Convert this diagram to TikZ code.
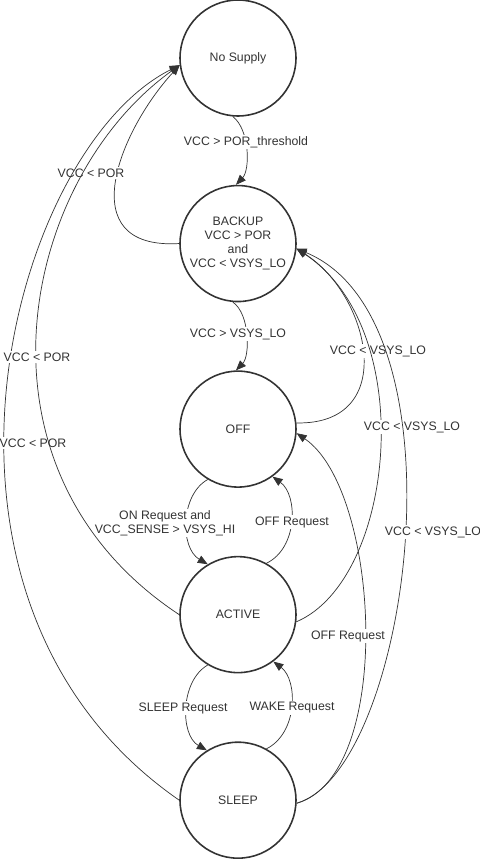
\documentclass[tikz,border=0pt]{standalone}
\usepackage{fontspec}
\setmainfont{Liberation Sans}
\usepackage{xcolor}
\usepackage{tikz}
\usetikzlibrary{shapes.geometric, arrows.meta, positioning}
\definecolor{ink}{HTML}{333333}
\tikzstyle{state} = [circle, minimum size=2.32cm, inner sep=0pt, draw=ink, line width=0.9pt, text=ink, align=center, font=\fontsize{7}{8}\selectfont]
\tikzstyle{trans} = [draw=ink, line width=0.4pt, -{Triangle[length=0.2cm, width=0.16cm]}]
\tikzstyle{lbl} = [fill=white, inner sep=1pt, text=ink, align=center, font=\fontsize{7}{8}\selectfont]

\begin{document}
\begin{tikzpicture}[x=0.02cm, y=-0.02cm, node distance=1.36cm]
            \useasboundingbox (0,0) rectangle (480,859);

            \node[state] (nosupply) at (238,58) {No Supply};
            \node[state, below=of nosupply] (backup) {BACKUP\\VCC > POR\\and\\VCC < VSYS\_LO};
            \node[state, below=of backup] (off) {OFF};
            \node[state, below=of off] (active) {ACTIVE};
            \node[state, below=of active] (sleep) {SLEEP};

            % neighbours
            \draw[trans] (nosupply.265) .. controls (250,130) and (250,170) .. (backup.92);
            \node[lbl] (lblpor) at (246,142) {VCC > POR\_threshold};
            \draw[trans] (backup.265) .. controls (250,314) and (250,356) .. (off.92);
            \node[lbl] (lblhi) at (238,334) {VCC > VSYS\_LO};
            \draw[trans] (off.239) .. controls (180,495) and (180,548) .. (active.121);
            \node[lbl] (lblon) at (165,523) {ON Request and\\VCC\_SENSE > VSYS\_HI};
            \draw[trans] (active.61) .. controls (298,548) and (298,495) .. (off.306);
            \node[lbl] (lbloff) at (292,522) {OFF Request};
            \draw[trans] (active.239) .. controls (180,681) and (180,735) .. (sleep.122);
            \node[lbl] (lblsleep) at (183,708) {SLEEP Request};
            \draw[trans] (sleep.61) .. controls (298,733) and (298,680) .. (active.307);
            \node[lbl] (lblwake) at (292,708) {WAKE Request};

            % back to No Supply
            \draw[trans] (backup.180) .. controls (70,250) and (120,130) .. (nosupply.187);
            \node[lbl] (lblpora) at (91,173) {VCC < POR};
            \draw[trans] (sleep.180) .. controls (-110,600) and (10,150) .. (nosupply.187);
            \node[lbl] (lblporc) at (33,443) {VCC < POR};
            \draw[trans] (active.180) .. controls (-40,470) and (20,180) .. (nosupply.187);
            \node[lbl] (lblporb) at (37,357) {VCC < POR};

            % back to BACKUP / OFF
            \draw[trans] (off.6) .. controls (400,425) and (370,295) .. (backup.355);
            \node[lbl] (lbllo) at (378,351) {VCC < VSYS\_LO};
            \draw[trans] (active.353) .. controls (395,580) and (420,330) .. (backup.355);
            \node[lbl] (lbllob) at (412,427) {VCC < VSYS\_LO};
            \draw[trans] (sleep.357) .. controls (410,770) and (470,320) .. (backup.355);
            \node[lbl] (lblloc) at (433,532) {VCC < VSYS\_LO};
            \draw[trans] (sleep.357) .. controls (395,775) and (380,490) .. (off.356);
            \node[lbl] (lbloffb) at (348,636) {OFF Request};
        \end{tikzpicture}
\end{document}
